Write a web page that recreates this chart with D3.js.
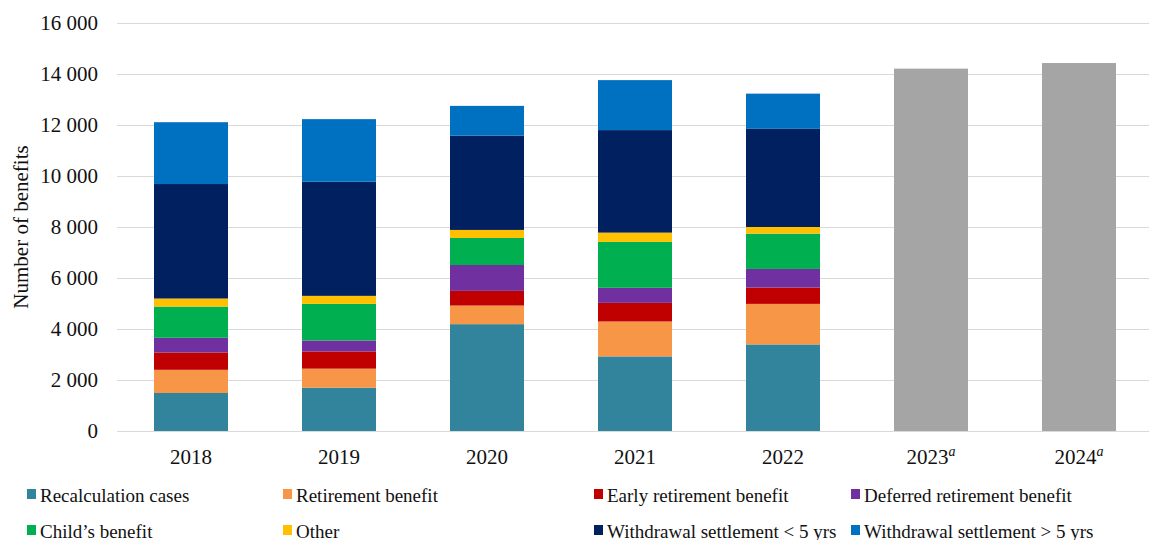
<!DOCTYPE html>
<html>
<head>
<meta charset="utf-8">
<script src="https://cdn.jsdelivr.net/npm/d3@7"></script>
<style>
  html, body { margin: 0; padding: 0; background: #fff; }
  svg { display: block; font-family: "Liberation Serif", "Times New Roman", serif; }
</style>
</head>
<body>
<svg id="chart" width="1149" height="540"></svg>
<script>
// Years and series (number of benefits)
const years = ["2018", "2019", "2020", "2021", "2022", "2023", "2024"];
const actualYears = ["2018", "2019", "2020", "2021", "2022"];
const forecastYears = ["2023", "2024"];

const seriesNames = [
  "Recalculation cases",
  "Retirement benefit",
  "Early retirement benefit",
  "Deferred retirement benefit",
  "Child\u2019s benefit",
  "Other",
  "Withdrawal settlement < 5 yrs",
  "Withdrawal settlement > 5 yrs"
];
const seriesColors = ["#31849B", "#F79646", "#C00000", "#7030A0", "#00B050", "#FFC000", "#002060", "#0070C0"];

const recalculation  = [1490, 1700, 4190, 2925, 3395];
const retirement     = [910, 745, 730, 1370, 1590];
const earlyRetire    = [680, 675, 575, 730, 640];
const deferredRetire = [575, 430, 1015, 590, 730];
const childBenefit   = [1225, 1435, 1060, 1800, 1385];
const other          = [315, 315, 315, 365, 260];
const withdrawalLt5  = [4490, 4475, 3700, 4020, 3850];
const withdrawalGt5  = [2425, 2455, 1165, 1960, 1380];

const forecastTotals = [14210, 14430];
const forecastColor = "#A5A5A5";

const yTicks = [0, 2000, 4000, 6000, 8000, 10000, 12000, 14000, 16000];

const seriesValues = [recalculation, retirement, earlyRetire, deferredRetire,
                      childBenefit, other, withdrawalLt5, withdrawalGt5];

// Table for the stack layout
const rows = actualYears.map((yr, i) => {
  const r = { year: yr };
  seriesNames.forEach((s, k) => { r[s] = seriesValues[k][i]; });
  return r;
});

const svg = d3.select("#chart");
const textColor = "#111";

const plotLeft = 117, plotRight = 1153, plotTop = 23, plotBottom = 431;

const x = d3.scaleBand()
  .domain(years)
  .range([plotLeft, plotRight])
  .paddingInner(0.5)
  .paddingOuter(0.25);

const y = d3.scaleLinear()
  .domain([0, 16000])
  .range([plotBottom, plotTop]);

// Gridlines
svg.append("g")
  .selectAll("line")
  .data(yTicks)
  .join("line")
  .attr("x1", plotLeft)
  .attr("x2", 1149)
  .attr("y1", d => Math.round(y(d)) + 0.5)
  .attr("y2", d => Math.round(y(d)) + 0.5)
  .attr("stroke", "#D9D9D9")
  .attr("stroke-width", 1.2);

// Y axis labels
const yAxis = d3.axisLeft(y)
  .tickValues(yTicks)
  .tickSize(0)
  .tickPadding(19)
  .tickFormat(d => d3.format(",")(d).replace(/,/g, " "));

svg.append("g")
  .attr("transform", `translate(${plotLeft},0)`)
  .call(yAxis)
  .call(g => g.select(".domain").remove())
  .call(g => g.selectAll("text")
    .attr("font-family", "Liberation Serif, Times New Roman, serif")
    .attr("font-size", 21)
    .attr("fill", textColor));

// Stacked bars
const stack = d3.stack().keys(seriesNames);
const layers = stack(rows);

svg.append("g")
  .selectAll("g")
  .data(layers)
  .join("g")
  .attr("fill", (d, i) => seriesColors[i])
  .selectAll("rect")
  .data(d => d)
  .join("rect")
  .attr("x", d => x(d.data.year))
  .attr("width", x.bandwidth())
  .attr("y", d => y(d[1]))
  .attr("height", d => y(d[0]) - y(d[1]));

// Projected totals
svg.append("g")
  .selectAll("rect")
  .data(forecastYears.map((yr, i) => ({ year: yr, value: forecastTotals[i] })))
  .join("rect")
  .attr("x", d => x(d.year))
  .attr("width", x.bandwidth())
  .attr("y", d => y(d.value))
  .attr("height", d => y(0) - y(d.value))
  .attr("fill", forecastColor);

// X axis labels
const xAxis = d3.axisBottom(x).tickSize(0).tickPadding(18);
const xg = svg.append("g")
  .attr("transform", `translate(0,${plotBottom})`)
  .call(xAxis)
  .call(g => g.select(".domain").remove());

xg.selectAll("text")
  .attr("font-family", "Liberation Serif, Times New Roman, serif")
  .attr("font-size", 21)
  .attr("fill", textColor)
  .each(function (d) {
    if (forecastYears.includes(d)) {
      const t = d3.select(this);
      t.text(null);
      t.append("tspan").text(d);
      t.append("tspan")
        .text("a")
        .attr("font-style", "italic")
        .attr("font-size", 14)
        .attr("dy", "-0.6em");
    }
  });

// Y axis title
svg.append("text")
  .attr("transform", `translate(28,227) rotate(-90)`)
  .attr("text-anchor", "middle")
  .attr("font-size", 21)
  .attr("fill", textColor)
  .text("Number of benefits");

// Legend
const legendX = [27, 283, 594, 851];
const legendY = [494, 530];
const legend = svg.append("g")
  .selectAll("g")
  .data(seriesNames)
  .join("g")
  .attr("transform", (d, i) => `translate(${legendX[i % 4]},${legendY[Math.floor(i / 4)]})`);

legend.append("rect")
  .attr("x", 0)
  .attr("y", -5)
  .attr("width", 9)
  .attr("height", 10)
  .attr("fill", (d, i) => seriesColors[i]);

legend.append("text")
  .attr("x", 13)
  .attr("y", 7.5)
  .attr("font-size", 19)
  .attr("fill", textColor)
  .text(d => d);
</script>
</body>
</html>
